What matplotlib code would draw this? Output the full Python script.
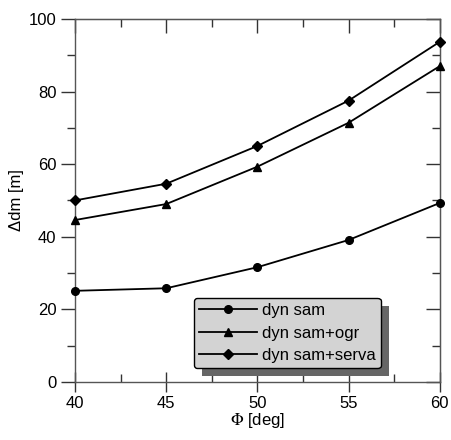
import matplotlib
matplotlib.use("Agg")
import matplotlib.pyplot as plt
from matplotlib.ticker import MultipleLocator
from matplotlib.patches import FancyBboxPatch

plt.rcParams['font.family'] = ['Liberation Sans', 'DejaVu Sans']
plt.rcParams['mathtext.fontset'] = 'stix'

phi = [40, 45, 50, 55, 60]
dyn_sam = [25.1, 25.8, 31.6, 39.1, 49.3]
dyn_sam_ogr = [44.6, 49.0, 59.3, 71.4, 87.0]
dyn_sam_serva = [50.0, 54.6, 65.0, 77.5, 93.7]
labels = ['dyn sam', 'dyn sam+ogr', 'dyn sam+serva']

fig = plt.figure(figsize=(4.52, 4.40), dpi=100)
ax = fig.add_axes([0.166, 0.132, 0.807, 0.825])

ax.plot(phi, dyn_sam, '-o', color='black', lw=1.3, ms=5.5, label=labels[0], clip_on=False, zorder=5)
ax.plot(phi, dyn_sam_ogr, '-^', color='black', lw=1.3, ms=6, label=labels[1], clip_on=False, zorder=5)
ax.plot(phi, dyn_sam_serva, '-D', color='black', lw=1.3, ms=4.8, label=labels[2], clip_on=False, zorder=5)

ax.set_xlim(40, 60)
ax.set_ylim(0, 100)
ax.xaxis.set_major_locator(MultipleLocator(5))
ax.xaxis.set_minor_locator(MultipleLocator(2.5))
ax.yaxis.set_major_locator(MultipleLocator(20))
ax.yaxis.set_minor_locator(MultipleLocator(10))

for s in ax.spines.values():
    s.set_color('#555555')
    s.set_linewidth(1.0)

ax.tick_params(axis='y', which='major', direction='out', length=10, width=1, color='#333333', labelsize=12, left=True, right=False)
ax.tick_params(axis='y', which='minor', direction='out', length=6, width=1, color='#333333', left=True, right=False)
ax.tick_params(axis='x', which='major', direction='inout', length=14, width=1, color='#333333', labelsize=12, top=False, pad=3)
ax.tick_params(axis='x', which='minor', direction='in', length=6, width=1, color='#333333', top=False)

axt = ax.secondary_xaxis('top')
axt.xaxis.set_major_locator(MultipleLocator(5))
axt.xaxis.set_minor_locator(MultipleLocator(2.5))
axt.tick_params(which='major', direction='in', length=10, width=1, color='#333333', labeltop=False)
axt.tick_params(which='minor', direction='in', length=6, width=1, color='#333333')
axt.spines['top'].set_color('#222222')
axr = ax.secondary_yaxis('right')
axr.yaxis.set_major_locator(MultipleLocator(20))
axr.yaxis.set_minor_locator(MultipleLocator(10))
axr.tick_params(which='major', direction='in', length=10, width=1, color='#333333', labelright=False)
axr.tick_params(which='minor', direction='in', length=6, width=1, color='#333333')
axr.spines['right'].set_color('#555555')

ax.set_xlabel('$\\Phi$ [deg]', fontsize=12, labelpad=0)
ax.set_ylabel('\u0394dm [m]', fontsize=12, labelpad=3)

leg = ax.legend(loc='lower left', bbox_to_anchor=(0.325, 0.038), fontsize=12,
                fancybox=True, shadow=False, framealpha=1,
                handlelength=3.5, borderpad=0.3, labelspacing=0.45, handletextpad=0.3,
                borderaxespad=0)
leg.get_frame().set_facecolor('#d3d3d3')
leg.get_frame().set_edgecolor('black')
leg.get_frame().set_linewidth(1.0)
leg.set_zorder(10)

fig.canvas.draw()
bb = leg.get_window_extent().transformed(fig.transFigure.inverted())
dx, dy = 8 / 452, 8 / 440
shadow = FancyBboxPatch((bb.x0 + dx, bb.y0 - dy), bb.width, bb.height,
                        boxstyle='square,pad=0', transform=fig.transFigure,
                        facecolor='#666666', edgecolor='none', zorder=9)
ax.add_artist(shadow)
shadow.set_clip_on(False)

fig.savefig('out.png', dpi=100)
